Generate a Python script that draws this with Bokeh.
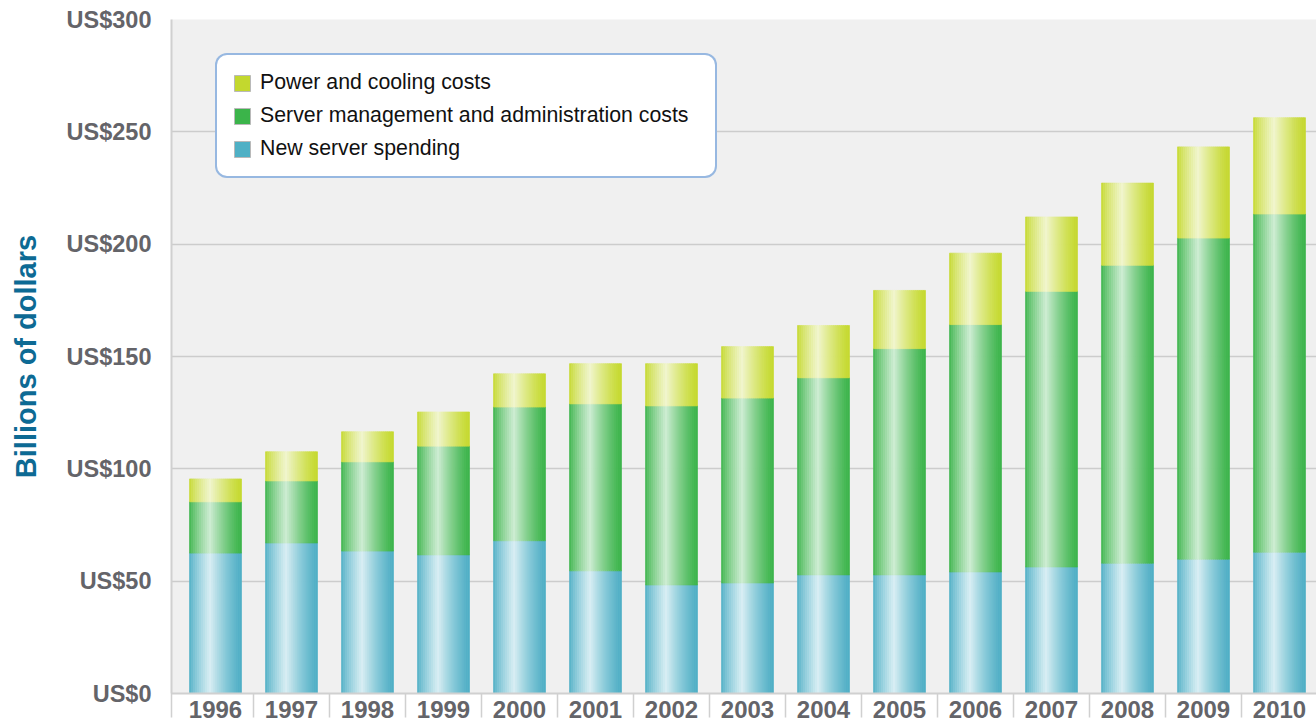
import numpy as np
from bokeh.plotting import figure
from bokeh.models import ColumnDataSource, FixedTicker, Legend, LegendItem, Range1d
from bokeh.embed import file_html
from bokeh.resources import INLINE

# ---------------- data ----------------
years = ["1996", "1997", "1998", "1999", "2000", "2001", "2002", "2003",
         "2004", "2005", "2006", "2007", "2008", "2009", "2010"]
new_server = [62.5, 67.0, 63.4, 61.7, 68.0, 54.6, 48.3, 49.2, 52.8, 52.8,
              54.1, 56.3, 58.0, 59.8, 62.9]
management = [22.8, 27.6, 39.7, 48.4, 59.5, 74.3, 79.7, 82.3, 87.7, 100.7,
              110.1, 122.7, 132.6, 142.9, 150.5]
power_cooling = [10.2, 13.0, 13.4, 15.2, 14.8, 17.9, 18.8, 22.9, 23.3, 25.9,
                 31.8, 33.1, 36.6, 40.6, 42.9]
y_ticks = [0, 50, 100, 150, 200, 250, 300]
y_tick_labels = ["US$0", "US$50", "US$100", "US$150", "US$200", "US$250", "US$300"]
series_labels = ["New server spending",
                 "Server management and administration costs",
                 "Power and cooling costs"]

# ---------------- style ----------------
FONT = "Liberation Sans"
BAR_W = 0.684
N_STRIPS = 26
X_START, X_END = -0.579, 14.487
palette = {
    "blue": ("#4fafc5", "#d8eef3", "#4fb0c5"),
    "green": ("#3cb44b", "#cdecd2", "#3bb44a"),
    "yellow": ("#c5d930", "#f0f5cd", "#c3d82e"),
}


def hex2rgb(h):
    h = h.lstrip("#")
    return np.array([int(h[i:i + 2], 16) for i in (0, 2, 4)], dtype=float)


def mix(dark, light, t):
    c = hex2rgb(dark) * (1 - t) + hex2rgb(light) * t
    return "#%02x%02x%02x" % tuple(int(round(v)) for v in c)


def profile(f):
    if f < 0.4:
        return (f / 0.4) ** 0.8
    return ((1 - f) / 0.6) ** 1.3


p = figure(width=1316, height=725,
           x_range=Range1d(X_START, X_END), y_range=Range1d(0, 300),
           output_backend="svg", toolbar_location=None,
           min_border_left=171, min_border_top=19,
           min_border_right=0, min_border_bottom=32)
p.background_fill_color = "#f0f0f0"
p.border_fill_color = "white"
p.outline_line_color = None

# stacked gradient bars built from strips
bottom = np.zeros(len(years))
for values, key in [(new_server, "blue"), (management, "green"), (power_cooling, "yellow")]:
    dark, light, _ = palette[key]
    xs, bs, ts, cs = [], [], [], []
    for i in range(len(years)):
        for k in range(N_STRIPS):
            f = (k + 0.5) / N_STRIPS
            xs.append(i - BAR_W / 2 + f * BAR_W)
            bs.append(bottom[i])
            ts.append(bottom[i] + values[i])
            cs.append(mix(dark, light, profile(f)))
    src = ColumnDataSource(dict(x=xs, bottom=bs, top=ts, color=cs))
    p.vbar(x="x", width=BAR_W / N_STRIPS, bottom="bottom", top="top",
           fill_color="color", line_color="color", line_width=0.7, source=src)
    bottom = bottom + np.array(values)

# dummy renderers for the legend
legend_renderers = {}
for key in ["yellow", "green", "blue"]:
    legend_renderers[key] = p.vbar(x=[-5], top=[1], bottom=[0], width=0.1,
                                   fill_color=palette[key][2], line_color="#b9b9b9",
                                   line_width=1)

legend = Legend(items=[
    LegendItem(label=series_labels[2], renderers=[legend_renderers["yellow"]]),
    LegendItem(label=series_labels[1], renderers=[legend_renderers["green"]]),
    LegendItem(label=series_labels[0], renderers=[legend_renderers["blue"]]),
], location=(44, 515))
legend.label_text_font = FONT
legend.label_text_font_size = "21.3px"
legend.label_text_color = "#111111"
legend.label_width = 440
legend.glyph_width = 20
legend.glyph_height = 20
legend.label_standoff = 8
legend.spacing = 8
legend.padding = 15
legend.margin = 0
legend.border_line_color = "#2f72c4"
legend.border_line_width = 2
legend.background_fill_color = "white"
legend.background_fill_alpha = 1.0
try:
    legend.border_radius = 12
except Exception:
    pass
p.add_layout(legend)

# y axis
p.yaxis.ticker = FixedTicker(ticks=y_ticks)
p.yaxis.major_label_overrides = dict(zip(y_ticks, y_tick_labels))
p.yaxis.major_label_text_font = FONT
p.yaxis.major_label_text_font_style = "bold"
p.yaxis.major_label_text_font_size = "23.5px"
p.yaxis.major_label_text_color = "#646469"
p.yaxis.major_label_standoff = 20
p.yaxis.major_tick_out = 0
p.yaxis.major_tick_in = 0
p.yaxis.minor_tick_out = 0
p.yaxis.minor_tick_in = 0
p.yaxis.axis_line_color = "#d0d0d0"
p.yaxis.axis_line_width = 2
p.yaxis.axis_label = "Billions of dollars"
p.yaxis.axis_label_text_font = FONT
p.yaxis.axis_label_text_font_style = "bold"
p.yaxis.axis_label_text_font_size = "29px"
p.yaxis.axis_label_text_color = "#0d6a94"
p.yaxis.axis_label_standoff = 22

# x axis
x_idx = list(range(len(years)))
p.xaxis.ticker = FixedTicker(ticks=x_idx,
                             minor_ticks=[X_START] + [i + 0.5 for i in x_idx[:-1]])
p.xaxis.major_label_overrides = dict(zip(x_idx, years))
p.xaxis.major_label_text_font = FONT
p.xaxis.major_label_text_font_style = "bold"
p.xaxis.major_label_text_font_size = "24px"
p.xaxis.major_label_text_color = "#646469"
p.xaxis.major_label_standoff = -17
p.xaxis.major_tick_out = 0
p.xaxis.major_tick_in = 0
p.xaxis.minor_tick_in = 0
p.xaxis.minor_tick_out = 24
p.xaxis.minor_tick_line_color = "#d0d0d0"
p.xaxis.minor_tick_line_width = 1.5
p.xaxis.axis_line_color = "#d0d0d0"
p.xaxis.axis_line_width = 2

p.xgrid.visible = False
p.ygrid.grid_line_color = "#cccccc"
p.ygrid.grid_line_width = 1.5

open("out.html", "w").write(file_html(p, INLINE))
